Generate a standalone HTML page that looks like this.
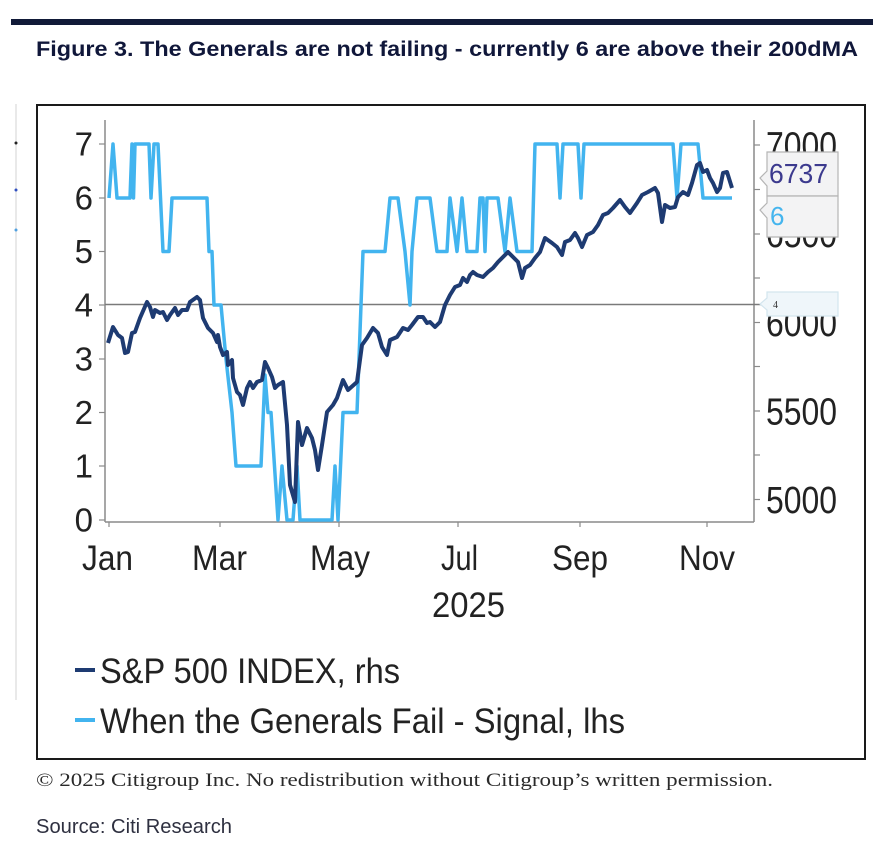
<!DOCTYPE html>
<html>
<head>
<meta charset="utf-8">
<style>
html,body{margin:0;padding:0;background:#fff;}
svg{display:block;}
text{font-family:"Liberation Sans",Arial,sans-serif;}
</style>
</head>
<body>
<svg width="873" height="855" viewBox="0 0 873 855" xmlns="http://www.w3.org/2000/svg">
<rect x="0" y="0" width="873" height="855" fill="#ffffff"/>
<!-- top dark bar -->
<rect x="11" y="19" width="862" height="6" fill="#111a38"/>
<!-- title -->
<text x="36" y="56" font-size="21" font-weight="bold" fill="#10173a" textLength="822" lengthAdjust="spacingAndGlyphs">Figure 3. The Generals are not failing - currently 6 are above their 200dMA</text>

<!-- faint left edge line -->
<line x1="16" y1="104" x2="16" y2="700" stroke="#e2e2e2" stroke-width="1.5"/>
<circle cx="16" cy="143" r="1.5" fill="#222"/>
<circle cx="16" cy="190" r="1.5" fill="#3050c0"/>
<circle cx="16" cy="230" r="1.5" fill="#50a0e0"/>

<!-- outer box -->
<rect x="37" y="105" width="828" height="654" fill="none" stroke="#1a1a1a" stroke-width="2"/>

<!-- plot axes -->
<line x1="105" y1="120" x2="105" y2="522" stroke="#8a8a8a" stroke-width="1.5"/>
<line x1="754" y1="120" x2="754" y2="522" stroke="#8a8a8a" stroke-width="1.5"/>
<line x1="105" y1="522" x2="754" y2="522" stroke="#8a8a8a" stroke-width="1.5"/>

<!-- left ticks -->
<g stroke="#8a8a8a" stroke-width="1.2">
<line x1="99" y1="144" x2="105" y2="144"/>
<line x1="99" y1="198" x2="105" y2="198"/>
<line x1="99" y1="251.5" x2="105" y2="251.5"/>
<line x1="99" y1="305" x2="105" y2="305"/>
<line x1="99" y1="359" x2="105" y2="359"/>
<line x1="99" y1="412.5" x2="105" y2="412.5"/>
<line x1="99" y1="466" x2="105" y2="466"/>
<line x1="99" y1="520" x2="105" y2="520"/>
</g>
<!-- right ticks -->
<g stroke="#8a8a8a" stroke-width="1.2">
<line x1="754" y1="145" x2="760" y2="145"/>
<line x1="754" y1="189.5" x2="760" y2="189.5"/>
<line x1="754" y1="234" x2="760" y2="234"/>
<line x1="754" y1="278" x2="760" y2="278"/>
<line x1="754" y1="322.5" x2="760" y2="322.5"/>
<line x1="754" y1="366.5" x2="760" y2="366.5"/>
<line x1="754" y1="411" x2="760" y2="411"/>
<line x1="754" y1="455" x2="760" y2="455"/>
<line x1="754" y1="499.5" x2="760" y2="499.5"/>
</g>
<!-- x ticks -->
<g stroke="#8a8a8a" stroke-width="1.2">
<line x1="109" y1="522" x2="109" y2="527"/>
<line x1="220" y1="522" x2="220" y2="527"/>
<line x1="339" y1="522" x2="339" y2="527"/>
<line x1="458" y1="522" x2="458" y2="527"/>
<line x1="580" y1="522" x2="580" y2="527"/>
<line x1="707" y1="522" x2="707" y2="527"/>
</g>

<!-- left labels -->
<g font-size="33" fill="#222" text-anchor="end">
<text x="93" y="155.5">7</text>
<text x="93" y="209.5">6</text>
<text x="93" y="263">5</text>
<text x="93" y="316.5">4</text>
<text x="93" y="370.5">3</text>
<text x="93" y="424">2</text>
<text x="93" y="477.5">1</text>
<text x="93" y="531.5">0</text>
</g>
<!-- right labels -->
<g font-size="38" fill="#222">
<text x="766" y="158.5" textLength="71" lengthAdjust="spacingAndGlyphs">7000</text>
<text x="766" y="247" textLength="71" lengthAdjust="spacingAndGlyphs">6500</text>
<text x="766" y="336" textLength="71" lengthAdjust="spacingAndGlyphs">6000</text>
<text x="766" y="424.5" textLength="71" lengthAdjust="spacingAndGlyphs">5500</text>
<text x="766" y="513" textLength="71" lengthAdjust="spacingAndGlyphs">5000</text>
</g>
<!-- month labels -->
<g font-size="35" fill="#222">
<text x="82" y="570" textLength="51" lengthAdjust="spacingAndGlyphs">Jan</text>
<text x="192" y="570" textLength="55" lengthAdjust="spacingAndGlyphs">Mar</text>
<text x="310" y="570" textLength="60" lengthAdjust="spacingAndGlyphs">May</text>
<text x="441" y="570" textLength="37" lengthAdjust="spacingAndGlyphs">Jul</text>
<text x="552" y="570" textLength="56" lengthAdjust="spacingAndGlyphs">Sep</text>
<text x="679" y="570" textLength="56" lengthAdjust="spacingAndGlyphs">Nov</text>
<text x="432" y="617" textLength="73" lengthAdjust="spacingAndGlyphs">2025</text>
</g>

<!-- horizontal line at 4 -->
<line x1="105" y1="304.5" x2="762" y2="304.5" stroke="#7a7a7a" stroke-width="1.5"/>

<!-- signal series -->
<polyline fill="none" stroke="#42b4ef" stroke-width="3.5" stroke-linejoin="round" points="
109,198 113,144 117,198 130,198 132,144 133.5,198 135,144 149,144 151,198 154,144 158,144 163,251.5 169,251.5 172,198 207,198 209,251.5 212,251.5 214,305 221,305 226,359 232,412.5 236,466 261,466 265,375 268,412.5 271,412.5 278,520 282,466 287,520 293,520 297,466 300,520 332,520 335,466 338,520 343,412.5 357,412.5 363,251.5 385,251.5 390,198 398,198 405,251.5 410,305 412,251.5 417,198 430,198 437,251.5 447,251.5 450,198 457,251.5 462,198 467,251.5 477,251.5 480,198 483,198 485,251.5 487,198 498,198 505,251.5 510,198 517,251.5 532,251.5 535,144 557,144 560,198 563,144 578,144 581,198 584,144 673,144 677,198 681,144 698,144 703,198 732,198"/>

<!-- S&P series -->
<polyline fill="none" stroke="#1e3b72" stroke-width="4" stroke-linejoin="round" points="
108,343 113,327 118,335 122,338 125,353 128,352 132,333 135,332 140,318 147,302 150,307 153,317 155,310 160,313 163,312 167,320 170,315 175,308 178,315 182,310 187,310 190,302 197,297 200,300 203,318 208,328 213,333 217,342 218,335 220,347 223,355 227,352 228,365 232,360 233,378 237,392 240,395 243,405 247,388 250,382 253,388 257,382 262,380 265,362 268,368 272,377 275,388 278,385 283,382 287,425 290,485 295,502 298,422 302,445 307,428 312,438 315,450 318,470 322,445 327,412 333,405 337,398 343,380 348,390 357,382 362,345 367,338 373,328 378,333 382,347 387,355 390,340 397,337 403,328 408,330 412,325 418,317 423,317 427,323 430,322 435,327 440,322 445,305 450,295 455,287 460,285 463,278 467,282 470,275 473,272 477,275 483,277 488,272 493,268 498,262 503,257 508,252 513,257 518,262 522,278 525,268 530,265 535,258 540,252 545,238 552,243 557,247 562,255 565,242 570,240 575,233 578,238 582,247 587,235 593,232 598,225 603,215 608,213 613,208 620,200 625,207 630,213 637,203 642,195 648,192 655,188 658,193 662,222 665,205 670,208 675,207 678,197 683,192 688,195 692,183 697,165 700,163 703,172 707,170 710,178 713,183 717,192 720,188 723,173 727,172 732,188"/>

<!-- callout boxes -->
<path d="M767,152 L838,152 L838,196 L767,196 L767,186 L760,178 L767,171 Z" fill="#f3f3f4" stroke="#b5b5b5" stroke-width="1.2"/>
<path d="M767,196 L838,196 L838,237 L767,237 L767,218 L760,210 L767,203 Z" fill="#f3f3f4" stroke="#b5b5b5" stroke-width="1.2"/>
<text x="769" y="183" font-size="28" fill="#3c3a8e" textLength="59" lengthAdjust="spacingAndGlyphs">6737</text>
<text x="770" y="225" font-size="26" fill="#45b5ee">6</text>
<path d="M767,292 L838,292 L838,316 L767,316 L767,310 L760,304 L767,298 Z" fill="#eff6fa" stroke="#d3e5ee" stroke-width="1.2"/>
<text x="773" y="308" font-size="10" fill="#333" style="font-family:'Liberation Serif',serif">4</text>

<!-- legend -->
<line x1="75" y1="670" x2="95" y2="670" stroke="#1e3b72" stroke-width="4"/>
<text x="100" y="683" font-size="35" fill="#222" textLength="300" lengthAdjust="spacingAndGlyphs">S&amp;P 500 INDEX, rhs</text>
<line x1="75" y1="720" x2="95" y2="720" stroke="#42b4ef" stroke-width="4"/>
<text x="100" y="733" font-size="35" fill="#222" textLength="525" lengthAdjust="spacingAndGlyphs">When the Generals Fail - Signal, lhs</text>

<!-- footer -->
<text x="36" y="786" font-size="19" fill="#2a2a2a" style="font-family:'Liberation Serif',serif" textLength="737" lengthAdjust="spacingAndGlyphs">© 2025 Citigroup Inc. No redistribution without Citigroup’s written permission.</text>
<text x="36" y="833" font-size="20" fill="#2e3040" textLength="196" lengthAdjust="spacingAndGlyphs">Source: Citi Research</text>
</svg>
</body>
</html>
